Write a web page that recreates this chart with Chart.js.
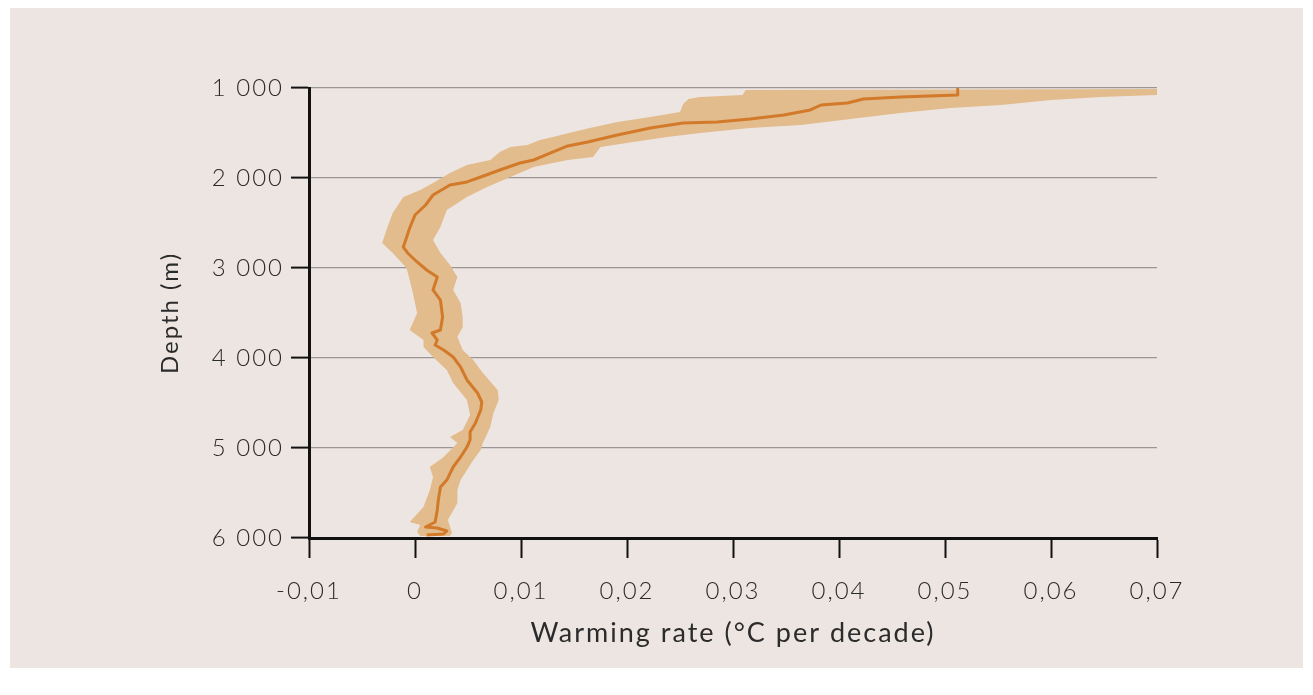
<!DOCTYPE html>
<html lang="en">
<head>
  <meta charset="UTF-8" />
  <title>Warming rate by depth</title>
  <script src="https://cdn.jsdelivr.net/npm/chart.js"></script>
  <style>
    body { margin: 0; background: #fff; }
    #panel { position: absolute; left: 10px; top: 8px; width: 1293px; height: 660px; background: #ede5e2; }
  </style>
</head>
<body>
  <div id="panel"><canvas id="chart" width="1293" height="660"></canvas></div>

  <script>
    // mean warming-rate profile
    const meanRate = [0.0512, 0.0512, 0.0458, 0.0423, 0.0408, 0.0383, 0.0373, 0.0348, 0.0316, 0.0285,
      0.0253, 0.0222, 0.0191, 0.0163, 0.0144, 0.0128, 0.0112, 0.0099, 0.0080, 0.0062,
      0.0049, 0.0033, 0.0017, 0.0010, 0.0000, -0.0005, -0.0011, -0.0007, 0.0002, 0.0011,
      0.0021, 0.0017, 0.0024, 0.0026, 0.0024, 0.0016, 0.0021, 0.0019, 0.0027, 0.0036,
      0.0043, 0.0049, 0.0059, 0.0063, 0.0062, 0.0057, 0.0052, 0.0052, 0.0049, 0.0043,
      0.0036, 0.0030, 0.0024, 0.0022, 0.0021, 0.0019, 0.0010, 0.0021, 0.0030, 0.0027, 0.0011];
    const meanDepth = [1011, 1078, 1100, 1122, 1167, 1189, 1244, 1300, 1344, 1378,
      1389, 1444, 1522, 1600, 1644, 1722, 1800, 1833, 1911, 1989,
      2044, 2078, 2189, 2300, 2411, 2556, 2767, 2833, 2933, 3022,
      3100, 3244, 3356, 3544, 3689, 3722, 3800, 3856, 3911, 3989,
      4100, 4244, 4389, 4489, 4578, 4722, 4822, 4911, 4989, 5100,
      5211, 5356, 5433, 5578, 5689, 5822, 5878, 5889, 5922, 5956, 5967];

    // uncertainty band, upper/left edge (top to bottom)
    const upperRate = [0.0700, 0.0312, 0.0309, 0.0269, 0.0258, 0.0253, 0.0250, 0.0222, 0.0191, 0.0165,
      0.0149, 0.0130, 0.0118, 0.0106, 0.0090, 0.0080, 0.0071, 0.0049, 0.0033, 0.0017,
      0.0005, -0.0011, -0.0021, -0.0026, -0.0031, -0.0021, -0.0008, -0.0005, -0.0002, 0.0002,
      -0.0005, 0.0008, 0.0008, 0.0017, 0.0030, 0.0036, 0.0049, 0.0052, 0.0045, 0.0033,
      0.0040, 0.0027, 0.0014, 0.0017, 0.0014, 0.0008, -0.0005, 0.0005, 0.0002, 0.0005];
    const upperDepth = [1010, 1022, 1078, 1100, 1122, 1178, 1267, 1322, 1378, 1444,
      1489, 1544, 1578, 1633, 1656, 1711, 1800, 1856, 1944, 2056,
      2133, 2211, 2389, 2544, 2722, 2833, 3000, 3133, 3278, 3500,
      3689, 3800, 3878, 3989, 4133, 4278, 4467, 4633, 4800, 4878,
      4944, 5100, 5211, 5322, 5467, 5656, 5822, 5856, 5933, 5978];

    // uncertainty band, lower/right edge (top to bottom)
    const lowerRate = [0.0700, 0.0647, 0.0600, 0.0553, 0.0505, 0.0458, 0.0411, 0.0364, 0.0316, 0.0269,
      0.0238, 0.0206, 0.0175, 0.0168, 0.0144, 0.0112, 0.0090, 0.0068, 0.0049, 0.0030,
      0.0024, 0.0017, 0.0024, 0.0033, 0.0040, 0.0036, 0.0043, 0.0045, 0.0045, 0.0040,
      0.0045, 0.0055, 0.0064, 0.0078, 0.0079, 0.0074, 0.0071, 0.0064, 0.0062, 0.0055,
      0.0043, 0.0040, 0.0040, 0.0031, 0.0035, 0.0033];
    const lowerDepth = [1078, 1100, 1133, 1189, 1222, 1278, 1344, 1411, 1444, 1500,
      1544, 1600, 1656, 1767, 1800, 1878, 1989, 2100, 2211, 2356,
      2544, 2689, 2833, 2967, 3100, 3244, 3389, 3544, 3656, 3767,
      3911, 4022, 4167, 4356, 4467, 4611, 4767, 4944, 5022, 5133,
      5356, 5467, 5611, 5800, 5944, 5978];

    const xTicks = [-0.01, 0, 0.01, 0.02, 0.03, 0.04, 0.05, 0.06, 0.07];
    const xTickLabels = ['-0,01', '0', '0,01', '0,02', '0,03', '0,04', '0,05', '0,06', '0,07'];
    const yTicks = [1000, 2000, 3000, 4000, 5000, 6000];
    const yTickLabels = ['1 000', '2 000', '3 000', '4 000', '5 000', '6 000'];

    const toPoints = (xs, ys) => xs.map((x, i) => ({ x, y: ys[i] }));
    const bandPoints = toPoints(upperRate, upperDepth).concat(toPoints(lowerRate, lowerDepth).reverse());

    const spacing = {
      id: 'spacing',
      beforeLayout(chart) { chart.ctx.letterSpacing = '2px'; },
      beforeDraw(chart) { chart.ctx.letterSpacing = '2px'; }
    };

    const ink = '#2b2b2b';

    new Chart(document.getElementById('chart'), {
      type: 'scatter',
      data: {
        datasets: [
          {
            label: 'Mean',
            data: toPoints(meanRate, meanDepth),
            showLine: true,
            borderColor: '#d37a2a',
            borderWidth: 3,
            borderJoinStyle: 'round',
            pointRadius: 0,
            fill: false
          },
          {
            label: 'Range',
            data: bandPoints,
            showLine: true,
            borderWidth: 0,
            borderColor: 'rgba(0,0,0,0)',
            backgroundColor: '#e2bc8c',
            pointRadius: 0,
            fill: 'shape'
          }
        ]
      },
      options: {
        responsive: false,
        animation: false,
        layout: { padding: { left: 0, top: 80, right: 146, bottom: 0 } },
        plugins: { legend: { display: false }, tooltip: { enabled: false } },
        scales: {
          x: {
            type: 'linear',
            min: -0.01,
            max: 0.07,
            afterBuildTicks: s => { s.ticks = xTicks.map(v => ({ value: v })); },
            afterFit: s => { s.height = 130; },
            ticks: {
              callback: (v, i) => xTickLabels[i],
              color: ink,
              padding: 19,
              font: { family: 'Lato', size: 24, weight: 300 }
            },
            grid: { drawOnChartArea: false, drawTicks: true, tickLength: 20, tickColor: '#111', tickWidth: 2 },
            border: { display: true, color: '#111', width: 3 },
            title: {
              display: true,
              text: 'Warming rate (°C per decade)',
              color: ink,
              padding: { top: 0, bottom: 19 },
              font: { family: 'Lato', size: 27, weight: 400 }
            }
          },
          y: {
            type: 'linear',
            reverse: true,
            min: 1000,
            max: 6000,
            afterBuildTicks: s => { s.ticks = yTicks.map(v => ({ value: v })); },
            afterFit: s => { s.width = 299; },
            ticks: {
              callback: (v, i) => yTickLabels[i],
              color: ink,
              padding: 7,
              font: { family: 'Lato', size: 24, weight: 300 }
            },
            grid: { color: '#9a9696', lineWidth: 1.2, drawTicks: true, tickLength: 18, tickColor: '#111', tickWidth: 2 },
            border: { display: true, color: '#111', width: 3 },
            title: {
              display: true,
              text: 'Depth (m)',
              color: ink,
              padding: { top: 146, bottom: 0 },
              font: { family: 'Lato', size: 24, weight: 400 }
            }
          }
        }
      },
      plugins: [spacing]
    });
  </script>
</body>
</html>
